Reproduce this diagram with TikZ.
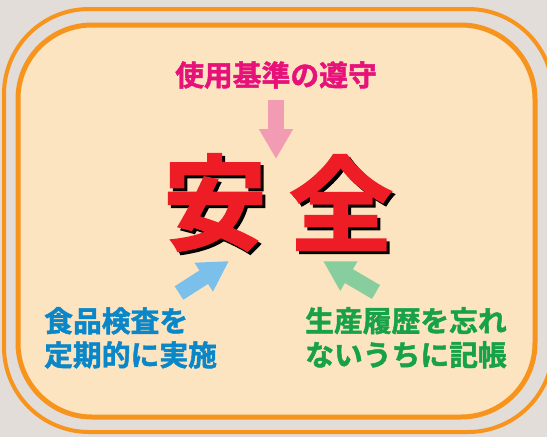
\documentclass[tikz,border=0pt]{standalone}
\usepackage{fontspec}
\newfontfamily\cjk{Noto Sans CJK JP}[BoldFont={* Bold}, BoldFeatures={FakeBold=1.6}]
\usetikzlibrary{arrows.meta}
\definecolor{bg}{HTML}{E2DDD9}
\definecolor{panel}{HTML}{FDE4C0}
\definecolor{frame}{HTML}{F7941E}
\definecolor{magentat}{HTML}{E6127A}
\definecolor{pinka}{HTML}{F29CB3}
\definecolor{bluet}{HTML}{0A87C9}
\definecolor{bluea}{HTML}{7BC0EA}
\definecolor{greent}{HTML}{17A24A}
\definecolor{greena}{HTML}{88CD9D}
\definecolor{redt}{HTML}{EE1C25}
\newcommand{\shadowchar}[1]{\rlap{\hspace{3pt}\raisebox{-3pt}{\color{black}#1}}\color{redt}#1}
\tikzset{
  lbl/.style={font=\cjk\bfseries\fontsize{28.8}{34}\selectfont, inner sep=0pt, align=left},
  big/.style={font=\cjk\bfseries\fontsize{104}{104}\selectfont, inner sep=0pt},
  fat/.style={-{Triangle[length=30pt,width=32pt]}, line width=16pt},
}
\begin{document}
\begin{tikzpicture}[x=1pt,y=1pt]
\useasboundingbox (0,0) rectangle (547,-437);
\fill[bg] (0,0) rectangle (547,-437);
\draw[frame, line width=4pt, rounded corners=85pt] (4,-9) rectangle (553,-432);
\draw[frame, line width=5pt, fill=panel, rounded corners=74pt] (18,-25) rectangle (535,-417);
% texts
\node[lbl, text=magentat] (top) at (276,-75) {使用基準の遵守};
\node[lbl, text=bluet, anchor=north west] (left) at (44,-307) {食品検査を\\定期的に実施};
\node[lbl, text=greent, anchor=north west] (right) at (305,-307) {生産履歴を忘れ\\ないうちに記帳};
% big characters with shadow
\node[big] (an) at (215,-204) {\shadowchar{安}};
\node[big] (zen) at (341,-204) {\shadowchar{全}};
% arrows
\coordinate (ptop) at (276,-100);
\coordinate (ttop) at (276,-159);
\draw[fat, pinka] (ptop) -- (ttop);
\coordinate (pl) at (179,-293);
\coordinate (tl) at (229,-261);
\draw[fat, bluea] (pl) -- (tl);
\coordinate (pr) at (376,-292);
\coordinate (tr) at (323,-261);
\draw[fat, greena] (pr) -- (tr);
\end{tikzpicture}
\end{document}
